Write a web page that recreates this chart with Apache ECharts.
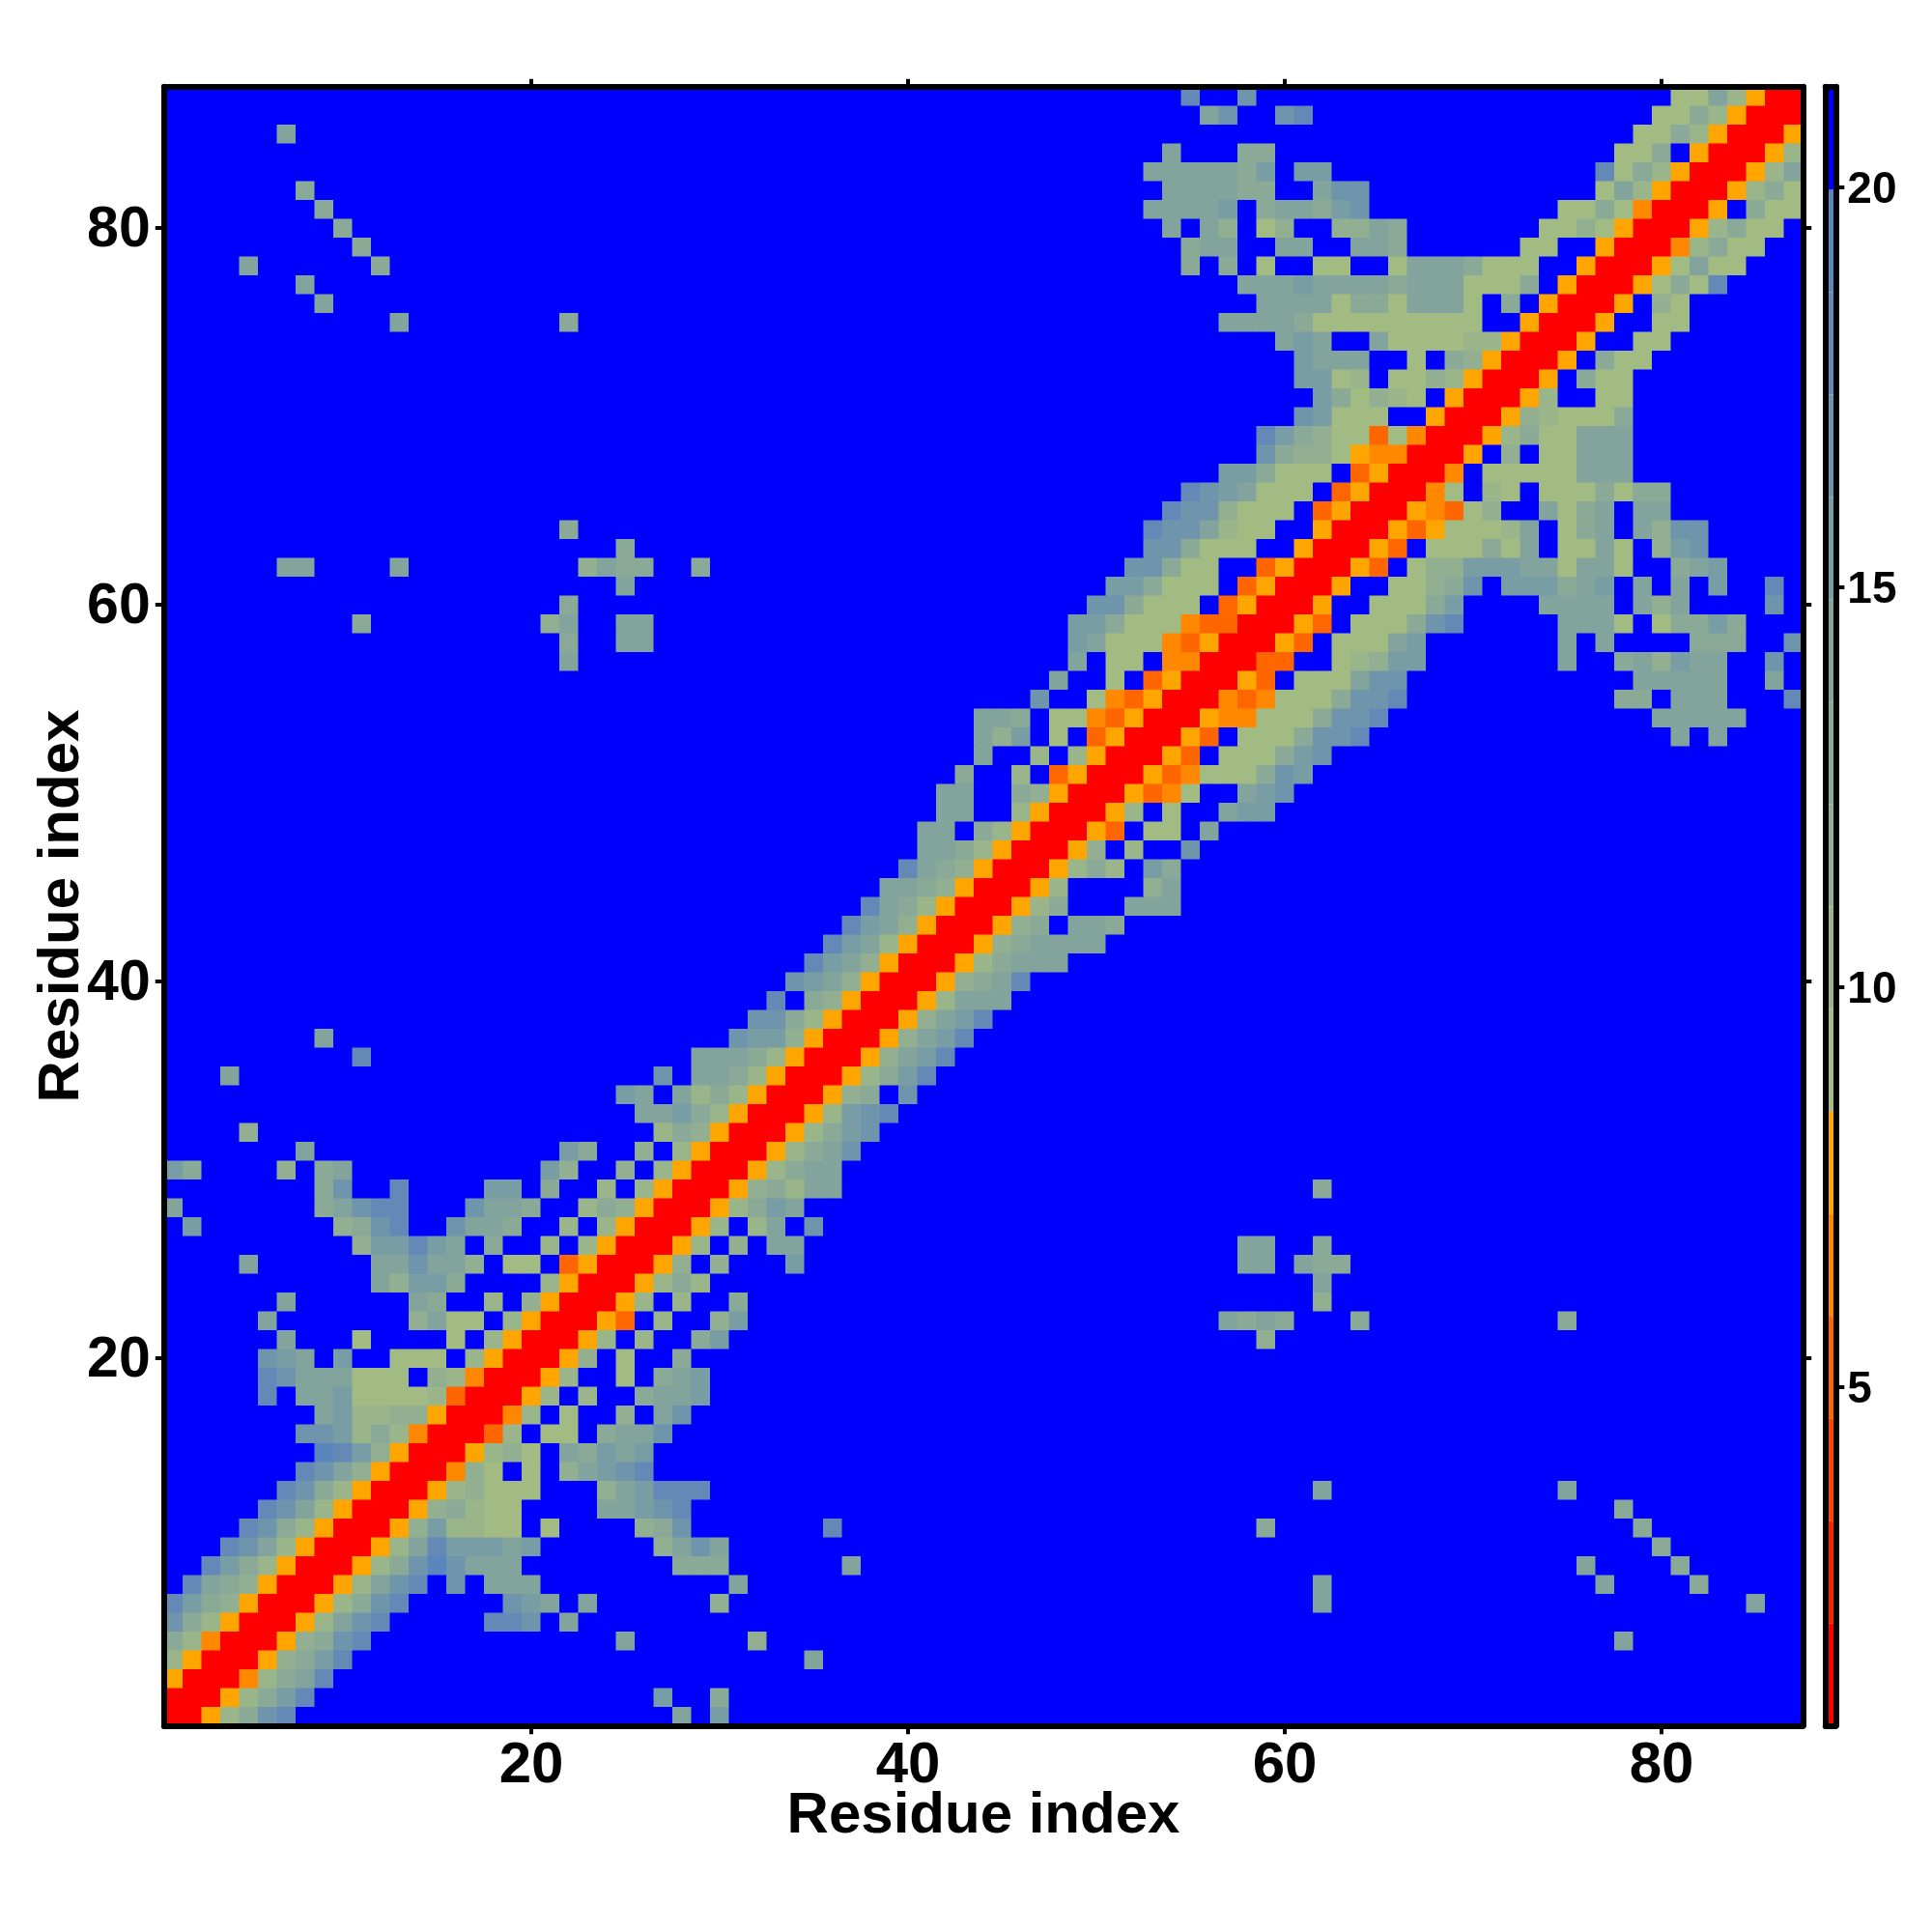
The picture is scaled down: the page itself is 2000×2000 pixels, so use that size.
<!DOCTYPE html>
<html><head><meta charset="utf-8">
<style>html,body{margin:0;padding:0;background:#fff}#c{width:2000px;height:2000px}</style>
<script src="https://cdn.jsdelivr.net/npm/echarts@6/dist/echarts.min.js"></script>
</head><body><div id="c"></div>
<script>
const residues = Array.from({length: 87}, (_, i) => String(i + 1));
const labelledResidues = ['20', '40', '60', '80'];
const levelEdges = [0.77,2.05,3.33,4.61,5.89,7.17,8.45,9.73,11.01,12.29,13.57,14.85,16.13,17.41,18.69,19.97,21.26];
const levelColors = ['#ff0000','#ff2200','#ff4400','#ff6600','#ff8800','#ffa500','#a2bb82','#9ab58a','#92af91','#8aa996','#83a49c','#799da5','#6f95ad','#6489b6','#5a86be','#0000ff'];
const barTicks = [5, 10, 15, 20];
const codeValue = {R:1.41,E:5.25,D:6.53,O:7.81,a:9.09,b:10.37,c:11.65,d:12.93,e:14.21,f:15.49,g:16.77,h:18.05,i:19.33,'.':20.61};
// [row, first column, distance codes up to the diagonal]; the matrix is symmetric
const contacts = [
[1,1,"R"],[2,1,"RR"],[3,1,"ORR"],[4,1,"bORR"],[5,1,"dbDRR"],[6,1,"gdbORR"],[7,1,"hfdcORR"],
[8,2,"hedcORR"],[9,3,"hfdbORR"],[10,4,"hgebORR"],[11,5,"hgdbORR"],[12,6,"hgebORR"],[13,7,"hgdbORR"],
[14,8,"hgecORR"],[15,9,"ihfcORR"],[16,8,"ggfbdbDRR"],[17,9,"efbbccORR"],[18,6,"h.eefaaaabERR"],
[19,6,"hgeeeaaa.cbDRR"],[20,6,"gfe.f..aaa.bORR"],
[21,7,"e"],[21,11,"a"],[21,16,"a.bORR"],
[22,6,"e"],[22,14,"ceaa.bORR"],
[23,7,"e"],[23,14,"ed"],[23,18,"b.cORR"],
[24,12,"ecffd"],[24,21,"bORR"],
[25,5,"e"],[25,12,"eegeec"],[25,19,"aa.EORR"],
[26,11,"cffhfe"],[26,18,"d"],[26,21,"b.bORR"],
[27,2,"f"],[27,10,"cdgh"],[27,16,"geed"],[27,22,"b.bORR"],
[28,1,"e"],[28,9,"deghh"],[28,17,"geed"],[28,23,"bdcORR"],
[29,9,"dg"],[29,13,"h"],[29,18,"ff"],[29,21,"d"],[29,24,"b.bORR"],
[30,1,"fd"],[30,7,"c"],[30,9,"de"],[30,21,"fc"],[30,25,"c.bORR"],
[31,8,"e"],[31,22,"fd"],[31,26,"c.bORR"],
[32,5,"c"],[32,27,"bdcORR"],
[33,26,"eefdbORR"],
[34,25,"fe.ebdbORR"],
[35,4,"e"],[35,27,"g.eedbORR"],
[36,11,"h"],[36,29,"eeedbORR"],
[37,9,"e"],[37,31,"gffcORR"],
[38,32,"ggdbORR"],[39,33,"h.dcORR"],[40,34,"gfecORR"],[41,35,"hfecORR"],[42,36,"hfebORR"],[43,37,"hfecORR"],
[44,38,"hedbORR"],[45,39,"eedcORR"],[46,40,"hedcORR"],[47,41,"eedbORR"],[48,41,"ee.dbORR"],
[49,42,"ee"],[49,46,"bORR"],
[50,42,"ee"],[50,46,"dcORR"],
[51,43,"d"],[51,46,"b.EORR"],
[52,44,"e"],[52,47,"b.bORR"],
[53,44,"ecf.a.EORR"],[54,44,"eed.aaDEORR"],
[55,47,"g"],[55,50,"aDEORR"],
[56,48,"e"],[56,51,"a.EORR"],
[57,22,"e"],[57,49,"e.aa.DDRR"],
[58,22,"d"],[58,25,"ee"],[58,49,"feaaaDEORR"],
[59,11,"d"],[59,21,"ce"],[59,25,"ee"],[59,49,"ffdaaaDEERR"],
[60,22,"d"],[60,50,"ggdaaa.EORR"],
[61,25,"e"],[61,51,"ffdaaa.EORR"],
[62,7,"ee"],[62,13,"e"],[62,23,"cedd"],[62,29,"d"],[62,52,"ggdaa..EORR"],
[63,25,"d"],[63,53,"ggdaaa..ORR"],
[64,22,"d"],[64,53,"hggebaa..ORR"],
[65,54,"hggcaaa.EORR"],[66,55,"hgfeaaa.EORR"],[67,57,"ffdaaa.EORR"],[68,59,"gdccaODDRR"],
[69,59,"hfdcaaEaDRR"],[70,61,"gfaaa..ORR"],[71,62,"fdacba.ORR"],[72,61,"ffab.aacbORR"],
[73,61,"feee..a.dcORR"],[74,60,"efe..eaaaabbORR"],
[75,13,"e"],[75,22,"d"],[75,57,"eeeedaaaaaaaaa..ORR"],
[76,9,"e"],[76,59,"eeeeaddaeeea.d.ORR"],
[77,8,"e"],[77,58,"eeefeeeedeeeaaad.ORR"],
[78,5,"e"],[78,12,"d"],[78,55,"d.d.a..aa..aeeedaaa..ORR"],
[79,11,"d"],[79,55,"dee..ee..eed"],[79,73,"aa..ORR"],
[80,10,"d"],[80,54,"e.ec.ac..cced"],[80,74,"aacaORR"],
[81,9,"d"],[81,53,"eeeef.deedfg"],[81,75,"aadaDRR"],
[82,8,"d"],[82,54,"eeeedd..egg"],[82,77,"aebORR"],
[83,53,"eeeeedf.ff"],[83,77,"hadbORR"],
[84,54,"e"],[84,58,"dd"],[84,78,"aad.ORR"],
[85,7,"e"],[85,79,"aadbORR"],
[86,56,"eg"],[86,60,"gh"],[86,80,"aadbORR"],
[87,55,"h"],[87,58,"g"],[87,81,"aaebORR"]
];

const far = codeValue['.'];
const matrix = residues.map(() => residues.map(() => far));
contacts.forEach(([r, c0, codes]) => {
  [...codes].forEach((ch, k) => {
    const c = c0 + k;
    matrix[r - 1][c - 1] = codeValue[ch];
    matrix[c - 1][r - 1] = codeValue[ch];
  });
});
const cells = [];
matrix.forEach((row, y) => row.forEach((v, x) => cells.push([x, y, v])));
const pieces = levelColors.map((color, i) => ({gte: levelEdges[i], lt: levelEdges[i + 1], color}));
const barData = levelColors.map((color, i) => [levelEdges[i], levelEdges[i + 1], i]);

const FONT = '"Liberation Sans", Arial, sans-serif';
const showOnly = (i, v) => labelledResidues.includes(v);
const frame = {lineStyle: {color: '#000', width: 6, cap: 'round'}};
const tick = {show: true, length: 9, lineStyle: {color: '#000', width: 4}};

const option = {
  animation: false,
  backgroundColor: '#fff',
  grid: [
    {left: 169.75, top: 89.75, width: 1696.5, height: 1696.5, containLabel: false, show: true, backgroundColor: '#0000ff', borderWidth: 0},
    {left: 1889.7, top: 89.75, width: 10.6, height: 1696.5, containLabel: false}
  ],
  xAxis: [
    {type: 'category', data: residues, gridIndex: 0, position: 'bottom', z: 10, axisLine: frame,
     axisTick: {...tick, alignWithLabel: true, interval: showOnly},
     axisLabel: {interval: showOnly, color: '#000', fontFamily: FONT, fontWeight: 'bold', fontSize: 60, margin: 12},
     name: 'Residue index', nameLocation: 'middle', nameGap: 64.5, nameMoveOverlap: false,
     nameTextStyle: {color: '#000', fontFamily: FONT, fontWeight: 'bold', fontSize: 60}},
    {type: 'category', data: residues, gridIndex: 0, position: 'top', z: 10, axisLine: frame,
     axisTick: {...tick, length: 8, alignWithLabel: true, interval: showOnly},
     axisLabel: {show: false}},
    {type: 'category', data: [''], gridIndex: 1, position: 'bottom', z: 10, axisLine: frame, axisTick: {show: false}, axisLabel: {show: false}},
    {type: 'category', data: [''], gridIndex: 1, position: 'top', z: 10, axisLine: frame, axisTick: {show: false}, axisLabel: {show: false}}
  ],
  yAxis: [
    {type: 'category', data: residues, gridIndex: 0, position: 'left', z: 10, axisLine: frame,
     axisTick: {...tick, alignWithLabel: true, interval: showOnly},
     axisLabel: {interval: showOnly, color: '#000', fontFamily: FONT, fontWeight: 'bold', fontSize: 59, margin: 14, verticalAlign: 'top', lineHeight: 6},
     name: 'Residue index', nameLocation: 'middle', nameGap: 75, nameRotate: 90, nameMoveOverlap: false,
     nameTextStyle: {color: '#000', fontFamily: FONT, fontWeight: 'bold', fontSize: 60}},
    {type: 'category', data: residues, gridIndex: 0, position: 'right', z: 10, axisLine: frame,
     axisTick: {...tick, alignWithLabel: true, interval: showOnly},
     axisLabel: {show: false}},
    {type: 'value', gridIndex: 1, position: 'left', min: levelEdges[0], max: levelEdges[16], z: 10, axisLine: {show: true, ...frame},
     splitLine: {show: false}, axisTick: {show: false}, axisLabel: {show: false}},
    {type: 'value', gridIndex: 1, position: 'right', min: levelEdges[0], max: levelEdges[16], z: 10, axisLine: {show: true, ...frame},
     splitLine: {show: false},
     axisTick: {...tick, customValues: barTicks},
     axisLabel: {customValues: barTicks, color: '#000', fontFamily: FONT, fontWeight: 'bold', fontSize: 46, margin: 12, verticalAlign: 'top', lineHeight: 6}}
  ],
  visualMap: {type: 'piecewise', show: false, seriesIndex: 0, dimension: 2, pieces},
  series: [
    {type: 'heatmap', xAxisIndex: 0, yAxisIndex: 0, data: cells, progressive: 0, itemStyle: {borderWidth: 0}, emphasis: {disabled: true}, silent: true},
    {type: 'custom', xAxisIndex: 2, yAxisIndex: 2, data: barData, silent: true, clip: true,
     renderItem(params, api) {
       const lo = api.coord([0, api.value(0)]);
       const hi = api.coord([0, api.value(1)]);
       const w = api.size([1, 0])[0];
       return {type: 'rect', shape: {x: lo[0] - w / 2, y: hi[1], width: w, height: lo[1] - hi[1]},
               style: {fill: levelColors[api.value(2)]}};
     },
     encode: {x: -1, y: [0, 1]}}
  ]
};
const chart = echarts.init(document.getElementById('c'), null, {renderer: 'canvas', width: 2000, height: 2000});
chart.setOption(option);
</script></body></html>
